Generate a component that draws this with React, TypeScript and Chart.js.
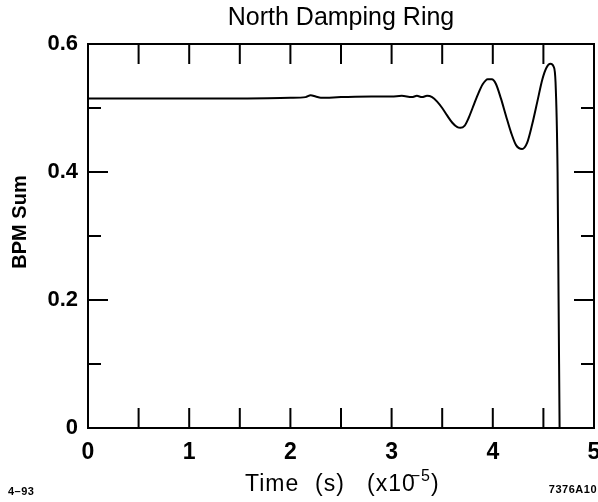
import React, { useEffect, useRef } from "react";
import { Chart, registerables } from "chart.js";

Chart.register(...registerables);

const chartTitle = "North Damping Ring";
const yAxisTitle = "BPM Sum";
const footLeft = "4–93";
const footRight = "7376A10";

const timeValues = [
  0, 0.5, 1.0, 1.5, 2.0, 2.15, 2.2, 2.25, 2.3, 2.5, 2.8, 3.0, 3.1, 3.2, 3.25, 3.3,
  3.35, 3.4, 3.45, 3.5, 3.55, 3.6, 3.65, 3.68, 3.72, 3.76, 3.8, 3.85, 3.9, 3.95,
  3.99, 4.03, 4.08, 4.13, 4.18, 4.23, 4.29, 4.34, 4.39, 4.44, 4.49, 4.53, 4.57,
  4.6, 4.62, 4.64, 4.65, 4.66,
];
const bpmSumValues = [
  0.515, 0.515, 0.515, 0.515, 0.516, 0.517, 0.52, 0.518, 0.516, 0.517, 0.518,
  0.518, 0.519, 0.517, 0.519, 0.517, 0.519, 0.517, 0.51, 0.5, 0.488, 0.477, 0.47,
  0.469, 0.472, 0.484, 0.5, 0.52, 0.537, 0.545, 0.545, 0.538, 0.515, 0.488, 0.462,
  0.442, 0.436, 0.446, 0.475, 0.51, 0.545, 0.563, 0.569, 0.565, 0.54, 0.4, 0.2, 0,
];

const xMinorTicks = [0.5, 1, 1.5, 2, 2.5, 3, 3.5, 4, 4.5];
const yMajorTicks = [0.2, 0.4];
const yMinorTicks = [0.1, 0.3, 0.5];

const FONT = "'Liberation Sans', Arial, Helvetica, sans-serif";

const decorPlugin = {
  id: "decor",
  afterDraw(chart: any) {
    const { ctx, chartArea } = chart;
    const { left, right, top, bottom } = chartArea;
    const xs = chart.scales.x;
    const ys = chart.scales.y;
    ctx.save();
    ctx.strokeStyle = "#000";
    ctx.lineWidth = 2;
    ctx.strokeRect(left, top, right - left, bottom - top);
    ctx.beginPath();
    for (const v of xMinorTicks) {
      const px = xs.getPixelForValue(v);
      ctx.moveTo(px, bottom);
      ctx.lineTo(px, bottom - 20);
      ctx.moveTo(px, top);
      ctx.lineTo(px, top + 20);
    }
    for (const v of yMajorTicks) {
      const py = ys.getPixelForValue(v);
      ctx.moveTo(left, py);
      ctx.lineTo(left + 20, py);
      ctx.moveTo(right, py);
      ctx.lineTo(right - 20, py);
    }
    for (const v of yMinorTicks) {
      const py = ys.getPixelForValue(v);
      ctx.moveTo(left, py);
      ctx.lineTo(left + 13, py);
      ctx.moveTo(right, py);
      ctx.lineTo(right - 13, py);
    }
    ctx.stroke();

    ctx.fillStyle = "#000";
    // Title
    ctx.font = `25px ${FONT}`;
    ctx.textAlign = "center";
    ctx.textBaseline = "alphabetic";
    ctx.fillText(chartTitle, (left + right) / 2, 25);

    // Y axis title
    ctx.save();
    ctx.translate(20, 222);
    ctx.rotate(-Math.PI / 2);
    ctx.font = `bold 20px ${FONT}`;
    ctx.textAlign = "center";
    ctx.textBaseline = "middle";
    ctx.fillText(yAxisTitle, 0, 0);
    ctx.restore();

    // X axis title pieces
    ctx.textBaseline = "alphabetic";
    ctx.textAlign = "left";
    (ctx as any).letterSpacing = "1px";
    ctx.font = `23px ${FONT}`;
    const base = 491;
    ctx.fillText("Time", 245, base);
    ctx.fillText("(s)", 315, base);
    ctx.fillText("(x10", 367, base);
    const w10 = ctx.measureText("(x10").width;
    ctx.font = `16px ${FONT}`;
    const supX = 367 + w10 - 5;
    ctx.fillText("−5", supX, base - 10);
    const wsup = ctx.measureText("−5").width;
    ctx.font = `23px ${FONT}`;
    ctx.fillText(")", supX + wsup, base);

    // footnotes
    (ctx as any).letterSpacing = "0.5px";
    ctx.font = `bold 11px ${FONT}`;
    ctx.textBaseline = "middle";
    ctx.textAlign = "left";
    ctx.fillText(footLeft, 8, 492);
    ctx.textAlign = "right";
    ctx.fillText(footRight, 597, 490);
    (ctx as any).letterSpacing = "0px";
    ctx.restore();
  },
};

export default function App() {
  const ref = useRef<HTMLCanvasElement | null>(null);
  useEffect(() => {
    if (!ref.current) return;
    const data = timeValues.map((t, i) => ({ x: t, y: bpmSumValues[i] }));
    const chart = new Chart(ref.current, {
      type: "line",
      data: {
        datasets: [
          {
            data,
            borderColor: "#000",
            borderWidth: 2,
            pointRadius: 0,
            fill: false,
            cubicInterpolationMode: "monotone",
          },
        ],
      },
      options: {
        animation: false,
        responsive: true,
        maintainAspectRatio: false,
        devicePixelRatio: 1,
        layout: { padding: { left: 0, right: 4, top: 44, bottom: 0 } },
        plugins: {
          legend: { display: false },
          tooltip: { enabled: false },
          title: { display: false },
        },
        scales: {
          x: {
            type: "linear",
            min: 0,
            max: 5,
            grid: { display: false, drawTicks: false },
            border: { display: false },
            ticks: {
              stepSize: 1,
              color: "#000",
              padding: 11,
              maxRotation: 0,
              font: { family: FONT, size: 23, weight: "bold" },
              callback: (v: any) => String(v),
            },
            afterFit: (s: any) => {
              s.height = 74;
              s.paddingLeft = 0;
              s.paddingRight = 0;
            },
          },
          y: {
            type: "linear",
            min: 0,
            max: 0.6,
            grid: { display: false, drawTicks: false },
            border: { display: false },
            ticks: {
              stepSize: 0.2,
              color: "#000",
              padding: 10,
              font: { family: FONT, size: 22, weight: "bold" },
              callback: (v: any) => (Math.abs(v) < 1e-9 ? "0" : Number(v).toFixed(1)),
            },
            afterFit: (s: any) => {
              s.width = 88;
              s.paddingTop = 0;
              s.paddingBottom = 0;
            },
          },
        },
      },
      plugins: [decorPlugin],
    });
    return () => chart.destroy();
  }, []);
  return (
    <div style={{ position: "absolute", left: 0, top: 0, width: 598, height: 502, background: "#fff" }}>
      <canvas ref={ref} />
    </div>
  );
}
